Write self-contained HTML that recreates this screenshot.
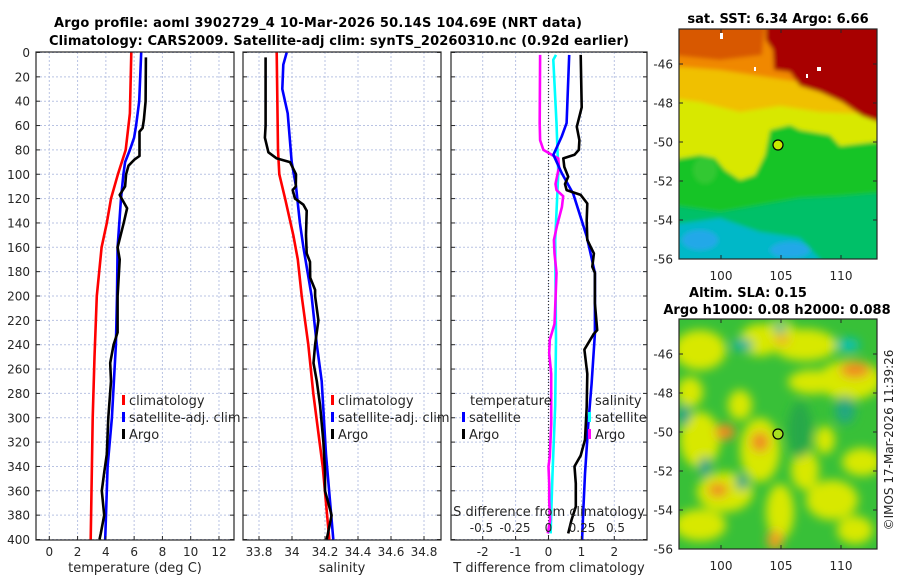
<!DOCTYPE html>
<html><head><meta charset="utf-8"><style>
html,body{margin:0;padding:0;background:#fff;}
svg{display:block;font-family:"DejaVu Sans","Liberation Sans",sans-serif;}
.tk{font-size:12px;fill:#262626;}
.ttl{font-size:13px;font-weight:bold;fill:#000;}
.grid{stroke:#b9c3e3;stroke-width:1;stroke-dasharray:2,2;}
.ax{fill:none;stroke:#262626;stroke-width:1.2;}
.ln{fill:none;stroke-width:2.6;stroke-linejoin:round;}
</style></head><body>
<svg id="fig" width="900" height="580" viewBox="0 0 900 580">
<defs>
<clipPath id="c1"><rect x="36" y="52" width="198" height="488"/></clipPath>
<clipPath id="c2"><rect x="243" y="52" width="198" height="488"/></clipPath>
<clipPath id="c3"><rect x="451" y="52" width="196" height="488"/></clipPath>
<clipPath id="cm1"><rect x="679" y="29" width="198" height="230"/></clipPath>
<clipPath id="cm2"><rect x="679" y="319" width="198" height="230"/></clipPath>
<filter id="bl" x="-20%" y="-20%" width="140%" height="140%"><feGaussianBlur stdDeviation="2"/></filter>
<filter id="bl2" x="-50%" y="-50%" width="200%" height="200%"><feGaussianBlur stdDeviation="5"/></filter>
</defs>
<text class="ttl" x="318" y="27" text-anchor="middle" textLength="528">Argo profile: aoml 3902729_4 10-Mar-2026 50.14S 104.69E (NRT data)</text>
<text class="ttl" x="339" y="45" text-anchor="middle" textLength="580">Climatology: CARS2009. Satellite-adj clim: synTS_20260310.nc (0.92d earlier)</text>
<g id="grids"></g>
<g id="series"></g>
<g id="axes"></g>

<text class="ttl" x="778" y="23" text-anchor="middle">sat. SST: 6.34 Argo: 6.66</text>
<g clip-path="url(#cm1)">
<g filter="url(#bl)">
<rect x="670" y="20" width="220" height="250" fill="#00c068"/>
<path d="M670,225 L720,218 L760,232 L800,238 L830,270 L670,270Z" fill="#00b8c8"/>
<ellipse cx="700" cy="240" rx="18" ry="10" fill="#20a8e8"/>
<ellipse cx="790" cy="250" rx="20" ry="8" fill="#20a8e8"/>
<path d="M670,20 L890,20 L890,192 L840,196 L800,198 L760,205 L720,212 L670,205Z" fill="#18c428"/>
<path d="M670,20 L890,20 L890,140 L840,146 L830,135 L800,130 L790,125 L770,130 L765,155 L755,175 L740,180 L725,170 L715,158 L700,155 L670,160Z" fill="#d8e800"/>
<ellipse cx="705" cy="170" rx="12" ry="14" fill="#30c830"/>
<path d="M670,20 L890,20 L890,115 L820,112 L780,106 L740,112 L700,102 L670,98Z" fill="#f0c000"/>
<path d="M670,20 L890,20 L890,100 L800,82 L760,76 L720,70 L670,66Z" fill="#f08800"/>
<path d="M670,20 L765,20 L762,55 L720,60 L670,55Z" fill="#d85800"/>
<path d="M766,20 L890,20 L890,126 L862,116 L842,102 L820,92 L800,86 L790,72 L774,70 L773,50 L766,40Z" fill="#a80000"/>
</g>
<rect x="720" y="33" width="3" height="6" fill="#fff"/><rect x="817" y="67" width="4" height="4" fill="#fff"/><rect x="754" y="67" width="2" height="4" fill="#fff"/><rect x="806" y="74" width="2" height="4" fill="#fff"/>
</g>
<rect class="ax" x="679" y="29" width="198" height="230"/>
<circle cx="778" cy="145" r="5" fill="#c8e800" stroke="#000" stroke-width="1.2"/>
<g id="map1ax"></g>

<text class="ttl" x="748" y="297" text-anchor="middle">Altim. SLA: 0.15</text>
<text class="ttl" x="777" y="314" text-anchor="middle">Argo h1000: 0.08 h2000: 0.088</text>
<g clip-path="url(#cm2)">
<rect x="670" y="310" width="220" height="250" fill="#38c038"/>
<g filter="url(#bl2)">
<ellipse cx="700" cy="350" rx="26" ry="20" fill="#d8e800"/><ellipse cx="760" cy="340" rx="20" ry="16" fill="#d8e800"/>
<ellipse cx="805" cy="345" rx="32" ry="16" fill="#d8e800"/><ellipse cx="850" cy="380" rx="32" ry="20" fill="#d8e800"/>
<ellipse cx="700" cy="440" rx="20" ry="28" fill="#d8e800"/><ellipse cx="760" cy="450" rx="20" ry="32" fill="#d8e800"/>
<ellipse cx="812" cy="382" rx="24" ry="12" fill="#d8e800"/><ellipse cx="725" cy="492" rx="28" ry="20" fill="#d8e800"/>
<ellipse cx="700" cy="525" rx="26" ry="16" fill="#d8e800"/><ellipse cx="780" cy="512" rx="14" ry="28" fill="#d8e800"/>
<ellipse cx="832" cy="500" rx="26" ry="20" fill="#d8e800"/><ellipse cx="862" cy="462" rx="20" ry="14" fill="#d8e800"/>
<ellipse cx="690" cy="392" rx="13" ry="15" fill="#d8e800"/><ellipse cx="740" cy="405" rx="12" ry="15" fill="#d8e800"/>
<ellipse cx="805" cy="470" rx="14" ry="20" fill="#d8e800"/><ellipse cx="780" cy="330" rx="14" ry="10" fill="#d8e800"/>
<ellipse cx="855" cy="530" rx="18" ry="14" fill="#d8e800"/><ellipse cx="825" cy="440" rx="10" ry="14" fill="#d8e800"/>
<ellipse cx="725" cy="432" rx="10" ry="8" fill="#f08a20"/><ellipse cx="760" cy="442" rx="9" ry="10" fill="#f08a20"/>
<ellipse cx="718" cy="490" rx="10" ry="7" fill="#f08a20"/><ellipse cx="855" cy="370" rx="15" ry="8" fill="#f08a20"/>
<ellipse cx="782" cy="340" rx="8" ry="5" fill="#f0b020"/><ellipse cx="775" cy="540" rx="8" ry="10" fill="#f0a020"/>
<ellipse cx="742" cy="345" rx="11" ry="6" fill="#10b0a0"/><ellipse cx="780" cy="328" rx="6" ry="5" fill="#10b0a0"/>
<ellipse cx="848" cy="345" rx="12" ry="7" fill="#10c0b0"/><ellipse cx="684" cy="415" rx="6" ry="10" fill="#10a090"/>
<ellipse cx="845" cy="410" rx="10" ry="14" fill="#20a880"/><ellipse cx="705" cy="467" rx="6" ry="10" fill="#10a090"/>
<ellipse cx="742" cy="482" rx="6" ry="8" fill="#10a090"/><ellipse cx="800" cy="430" rx="12" ry="28" fill="#28a848"/>
</g>
</g>
<rect class="ax" x="679" y="319" width="198" height="230"/>
<circle cx="778" cy="434" r="5" fill="#a8e020" stroke="#000" stroke-width="1.2"/>
<g id="map2ax"></g>
<text class="tk" transform="translate(893,440) rotate(-90)" text-anchor="middle">©IMOS 17-Mar-2026 11:39:26</text>
</svg>
<script>
const tClimDepth=[0,50,80,100,120,140,160,200,250,300,400];
const tClim=[5.8,5.7,5.4,4.85,4.36,4.07,3.7,3.36,3.2,3.07,2.93];
const tSatDepth=[0,40,60,70,80,90,100,120,160,200,240,300,340,400];
const tSat=[6.5,6.36,6.14,6.0,5.7,5.36,5.24,5.07,4.83,4.79,4.71,4.43,4.12,3.95];
const tArgoDepth=[4,40,55,62,65,85,88,93,100,110,117,120,128,140,160,170,190,200,230,240,255,270,300,330,345,360,380,395,400];
const tArgo=[6.83,6.81,6.69,6.6,6.38,6.38,6.02,5.6,5.43,5.36,4.98,5.12,5.5,5.26,4.83,4.98,4.88,4.83,4.83,4.55,4.31,4.36,4.17,4.07,3.88,3.71,3.88,3.64,3.55];
const sClimDepth=[0,80,100,120,150,170,200,240,280,340,400];
const sClim=[33.907,33.915,33.923,33.958,34.008,34.035,34.059,34.099,34.129,34.186,34.226];
const sSatDepth=[0,10,30,50,90,110,140,160,200,240,270,330,400];
const sSat=[33.968,33.947,33.941,33.974,33.998,34.024,34.048,34.069,34.119,34.15,34.18,34.206,34.25];
const sArgoDepth=[4,60,70,82,87,90,100,110,113,120,125,130,150,165,172,185,195,200,220,240,255,270,290,320,345,360,380,400];
const sArgo=[33.84,33.84,33.836,33.857,33.907,33.988,34.024,34.023,34.004,34.018,34.069,34.089,34.085,34.089,34.109,34.11,34.14,34.14,34.16,34.14,34.13,34.15,34.17,34.19,34.2,34.2,34.24,34.21];
const dTSatDepth=[2,58,69,84,99,116,151,181,231,272,305,346,387,400];
const dTSat=[0.63,0.55,0.40,0.15,0.40,0.75,1.16,1.41,1.41,1.31,1.21,1.11,1.04,1.02];
const dTArgoDepth=[2,45,61,72,80,84,87,94,102,108,113,117,124,138,154,165,176,181,206,228,231,244,264,291,318,331,340,354,373,384,395];
const dTArgo=[0.98,1.01,0.86,0.94,0.92,0.79,0.45,0.48,0.6,0.5,0.55,0.98,1.18,1.16,1.18,1.38,1.33,1.41,1.41,1.48,1.38,1.09,1.18,1.16,1.11,0.98,0.79,0.83,0.83,0.7,0.6];
const dSSatDepth=[2,6,58,99,154,236,290,346,395];
const dSSat=[0.056,0.036,0.06,0.073,0.05,0.056,0.05,0.03,0.016];
const dSArgoDepth=[2,58,72,80,84,87,94,108,113,118,127,143,154,165,181,203,223,236,247,264,305,332,340,354,368,384,395];
const dSArgo=[-0.063,-0.066,-0.063,-0.038,0.024,0.073,0.078,0.052,0.06,0.11,0.1,0.062,0.04,0.045,0.06,0.052,0.045,0.01,0.005,0.02,0.02,0.01,0,0.005,0.005,0.012,-0.005];
const depthTicks=[0,20,40,60,80,100,120,140,160,180,200,220,240,260,280,300,320,340,360,380,400];
const tTicks=[0,2,4,6,8,10,12];
const sTicks=[33.8,34,34.2,34.4,34.6,34.8];
const sTickLabels=["33.8","34","34.2","34.4","34.6","34.8"];
const dTTicks=[-2,-1,0,1,2];
const dSTicks=[-0.5,-0.25,0,0.25,0.5];
const dSTickLabels=["-0.5","-0.25","0","0.25","0.5"];
const latTicks=[-46,-48,-50,-52,-54,-56];
const lonTicks=[100,105,110];

const yD=d=>52.5+d*1.2175;
const xT=t=>49.3+t*14.14;
const xS=s=>259+(s-33.8)*165;
const xdT=v=>548.5+v*32.9;
const xdS=v=>548.5+v*134;
const NS="http://www.w3.org/2000/svg";
function mk(tag,attrs,parent){const e=document.createElementNS(NS,tag);for(const k in attrs)e.setAttribute(k,attrs[k]);parent.appendChild(e);return e;}
const G=document.getElementById('grids'),S=document.getElementById('series'),A=document.getElementById('axes');
const panels=[{x0:36,x1:234,clip:'c1',name:'temperature'},{x0:243,x1:441,clip:'c2',name:'salinity'},{x0:451,x1:647,clip:'c3',name:'difference'}];
panels.forEach((p,i)=>{
  depthTicks.forEach(d=>{const l=mk('line',{x1:p.x0,x2:p.x1,y1:yD(d),y2:yD(d),class:'grid'},G);
    
    });
});
function vgrid(vals,fx){vals.forEach(v=>{const l=mk('line',{x1:fx(v),x2:fx(v),y1:52,y2:540,class:'grid'},G);
  
  });}
vgrid(tTicks,xT);vgrid(sTicks,xS);vgrid(dTTicks,xdT);
const zl=mk('line',{x1:xdT(0),x2:xdT(0),y1:52,y2:540,stroke:'#333','stroke-dasharray':'1,2','stroke-width':1.2},G);


function line(dep,val,fx,col,clip,name,w){
  const pts=dep.map((d,i)=>fx(val[i]).toFixed(1)+','+yD(d).toFixed(1)).join(' ');
  const e=mk('polyline',{points:pts,class:'ln',stroke:col,'clip-path':'url(#'+clip+')','stroke-width':w||2.6},S);
  
  
}
line(tClimDepth,tClim,xT,'#ff0000','c1','temperature-climatology-line');
line(tSatDepth,tSat,xT,'#0000ff','c1','temperature-satellite-adj-line');
line(tArgoDepth,tArgo,xT,'#000','c1','temperature-argo-line',3);
line(sClimDepth,sClim,xS,'#ff0000','c2','salinity-climatology-line');
line(sSatDepth,sSat,xS,'#0000ff','c2','salinity-satellite-adj-line');
line(sArgoDepth,sArgo,xS,'#000','c2','salinity-argo-line',3);
line(dSSatDepth,dSSat,xdS,'#00ffff','c3','salinity-satellite-diff-line');
line(dSArgoDepth,dSArgo,xdS,'#ff00ff','c3','salinity-argo-diff-line');
line(dTSatDepth,dTSat,xdT,'#0000ff','c3','temperature-satellite-diff-line');
line(dTArgoDepth,dTArgo,xdT,'#000','c3','temperature-argo-diff-line',3);
panels.forEach((p,i)=>{
  const r=mk('rect',{x:p.x0,y:52,width:p.x1-p.x0,height:488,class:'ax'},A);
  
  
  depthTicks.forEach(d=>{
    mk('line',{x1:p.x0,x2:p.x0+4,y1:yD(d),y2:yD(d),stroke:'#262626'},A);
    mk('line',{x1:p.x1-4,x2:p.x1,y1:yD(d),y2:yD(d),stroke:'#262626'},A);
    if(i===0){const t=mk('text',{x:30,y:yD(d)+4.5,class:'tk','text-anchor':'end'},A);t.textContent=d;
      
      }
  });
});
function xlabels(vals,labs,fx,y,name){vals.forEach((v,i)=>{
  mk('line',{x1:fx(v),x2:fx(v),y1:540,y2:536,stroke:'#262626'},A);
  const t=mk('text',{x:fx(v),y:y,class:'tk','text-anchor':'middle'},A);t.textContent=labs[i];
  
  });}
xlabels(tTicks,tTicks.map(String),xT,556,'temperature-tick-label');
xlabels(sTicks,sTickLabels,xS,556,'salinity-tick-label');
xlabels(dTTicks,dTTicks.map(String),xdT,556,'t-difference-tick-label');
dSTicks.forEach((v,i)=>{const t=mk('text',{x:xdS(v),y:532,class:'tk','text-anchor':'middle'},A);t.textContent=dSTickLabels[i];
  
  });
function txt(x,y,s,name,anchor,extra){const t=mk('text',Object.assign({x:x,y:y,class:'tk','text-anchor':anchor||'start'},extra||{}),A);t.textContent=s;
  
  return t;}
txt(135,572,'temperature (deg C)','temperature-axis-title','middle',{style:'font-size:13px'});
txt(342,572,'salinity','salinity-axis-title','middle',{style:'font-size:13px'});
txt(549,572,'T difference from climatology','t-difference-axis-title','middle',{style:'font-size:13px'});
txt(549,516,'S difference from climatology','s-difference-axis-title','middle',{style:'font-size:13px'});
function leg(x,y,col,label,name){const m=mk('rect',{x:x,y:y-10,width:3,height:10,fill:col},A);
  
  
  txt(x+7,y,label,name,'start',{style:'font-size:13px'});}
[[36,''],[243,'s-']].forEach(([ox,pre],k)=>{
  const bx=k===0?122:331;
  leg(bx,405,'#ff0000','climatology',pre+'legend-climatology');
  leg(bx,422,'#0000ff','satellite-adj. clim',pre+'legend-satellite-adj');
  leg(bx,439,'#000','Argo',pre+'legend-argo');
});
txt(470,405,'temperature','legend-temperature-header','start',{style:'font-size:13px'});
leg(462,422,'#0000ff','satellite','legend-t-satellite');
leg(462,439,'#000','Argo','legend-t-argo');
txt(595,405,'salinity','legend-salinity-header','start',{style:'font-size:13px'});
leg(588,422,'#00ffff','satellite','legend-s-satellite');
leg(588,439,'#ff00ff','Argo','legend-s-argo');
function mapAxes(gid,yTop){const g=document.getElementById(gid);
  const yL=l=>yTop+230-(l+56)*19.5;const xL=o=>721+(o-100)*12;
  latTicks.forEach(l=>{mk('line',{x1:679,x2:683,y1:yL(l),y2:yL(l),stroke:'#262626'},g);mk('line',{x1:873,x2:877,y1:yL(l),y2:yL(l),stroke:'#262626'},g);
    const t=mk('text',{x:673,y:yL(l)+4.5,class:'tk','text-anchor':'end'},g);t.textContent=l;
    
    });
  lonTicks.forEach(o=>{mk('line',{x1:xL(o),x2:xL(o),y1:yTop,y2:yTop+4,stroke:'#262626'},g);mk('line',{x1:xL(o),x2:xL(o),y1:yTop+226,y2:yTop+230,stroke:'#262626'},g);
    const t=mk('text',{x:xL(o),y:yTop+251,class:'tk','text-anchor':'middle'},g);t.textContent=o;
    
    });}
mapAxes('map1ax',29);mapAxes('map2ax',319);
</script>
</body></html>
